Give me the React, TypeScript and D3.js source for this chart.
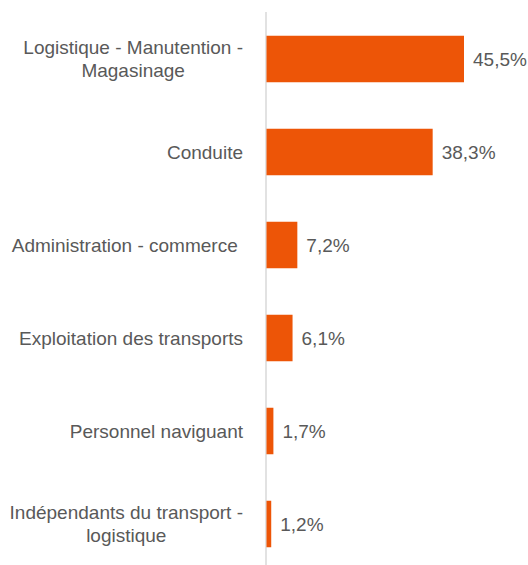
import * as d3 from "d3";
import { useEffect, useRef } from "react";

const width = 528;
const height = 565;

const categories = [
  ["Logistique - Manutention -", "Magasinage"],
  ["Conduite"],
  ["Administration - commerce\u00a0"],
  ["Exploitation des transports"],
  ["Personnel naviguant"],
  ["Indépendants du transport -", "logistique"],
];
const values = [45.5, 38.3, 7.2, 6.1, 1.7, 1.2];
const valueLabels = ["45,5%", "38,3%", "7,2%", "6,1%", "1,7%", "1,2%"];

const App = () => {
  const ref = useRef<SVGSVGElement | null>(null);

  useEffect(() => {
    if (!ref.current) return;
    const svg = d3.select(ref.current);
    svg.selectAll("*").remove();

    const ids = categories.map((_, i) => String(i));
    const y = d3.scaleBand().domain(ids).range([12.5, 570.5]).paddingInner(0.5).paddingOuter(0.25);
    const x = d3.scaleLinear().domain([0, 45.5]).range([266, 464]);

    svg
      .append("line")
      .attr("x1", 266)
      .attr("x2", 266)
      .attr("y1", 12)
      .attr("y2", height)
      .attr("stroke", "#d9d9d9")
      .attr("stroke-width", 1.5);

    svg
      .append("g")
      .selectAll("rect")
      .data(values)
      .join("rect")
      .attr("x", x(0) + 0.5)
      .attr("y", (_, i) => y(ids[i])!)
      .attr("width", (d) => x(d) - x(0) - 0.5)
      .attr("height", y.bandwidth())
      .attr("fill", "#ED5507");

    const font = "'Liberation Sans', Arial, sans-serif";
    const fs = 19;

    svg
      .append("g")
      .selectAll("text")
      .data(valueLabels)
      .join("text")
      .attr("x", (_, i) => x(values[i]) + 9)
      .attr("y", (_, i) => y(ids[i])! + y.bandwidth() / 2)
      .attr("dy", "0.35em")
      .attr("font-family", font)
      .attr("font-size", fs)
      .attr("fill", "#595959")
      .text((d) => d);

    const lineH = 23;
    categories.forEach((lines, i) => {
      const cy = y(ids[i])! + y.bandwidth() / 2;
      const t = svg
        .append("text")
        .attr("font-family", font)
        .attr("font-size", fs)
        .attr("fill", "#595959")
        .attr("text-anchor", "end")
        .style("white-space", "pre");
      lines.forEach((l, j) => {
        t.append("tspan")
          .attr("x", 243)
          .attr("y", cy + (j - (lines.length - 1) / 2) * lineH)
          .attr("dy", "0.35em")
          .text(l);
      });
      if (lines.length > 1) {
        const maxW = d3.max(t.selectAll<SVGTSpanElement, unknown>("tspan").nodes(), (n) => n.getComputedTextLength()) ?? 0;
        t.attr("text-anchor", "middle");
        t.selectAll("tspan").attr("x", 243 - maxW / 2);
      }
    });
  }, []);

  return (
    <div style={{ position: "absolute", left: 0, top: 0 }}>
      <svg ref={ref} width={width} height={height} style={{ display: "block", background: "#fff" }} />
    </div>
  );
};

export default App;
